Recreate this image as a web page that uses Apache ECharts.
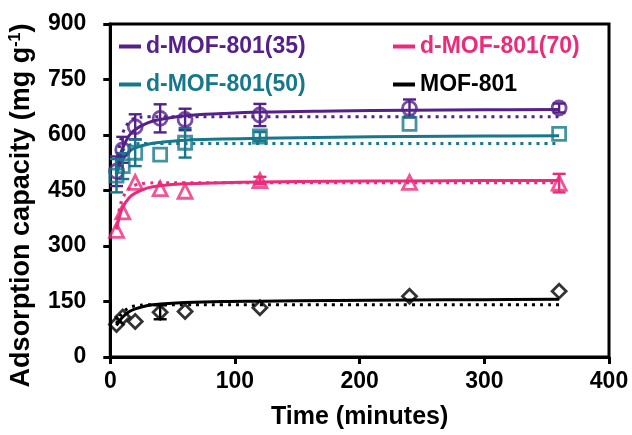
<!DOCTYPE html>
<html>
<head>
<meta charset="utf-8">
<script src="https://cdn.jsdelivr.net/npm/echarts@6/dist/echarts.min.js"></script>
<style>html,body{margin:0;padding:0;background:#fff}#c{width:632px;height:435px}</style>
</head>
<body>
<div id="c"></div>
<script>
// ---- data ----
const seriesNames = ['d-MOF-801(35)', 'd-MOF-801(50)', 'd-MOF-801(70)', 'MOF-801'];
const timePts = [5, 10, 20, 40, 60, 120, 240, 360];
const q35 = [502, 560, 622, 645, 642, 654, 672, 673];
const e35 = [40, 35, 34, 38, 29, 30, 24, 12];
const q50 = [490, 516, 552, 547, 579, 596, 630, 603];
const e50 = [45, 35, 36, 0, 40, 12, 0, 0];
const q70 = [342, 392, 472, 455, 448, 477, 472, 470];
const e70 = [0, 0, 0, 0, 0, 10, 0, 25];
const q801 = [88, 108, 96, 121, 123, 133, 164, 178];
const e801 = [0, 0, 0, 19, 0, 0, 0, 0];

// fitted curves (read at these times)
const fitT = [5, 7, 10, 15, 20, 30, 40, 60, 90, 120, 180, 240, 300, 360];
const fit35Solid = [500, 535, 565, 598, 615, 633, 642, 652, 658, 662, 665, 667, 668, 669];
const fit35Dot   = [500, 560, 605, 635, 645, 649, 649, 649, 649, 649, 649, 649, 649, 649];
const fit50Solid = [490, 515, 535, 555, 565, 575, 580, 586, 589, 591, 594, 596, 597, 598];
const fit50Dot   = [495, 530, 558, 572, 576, 577, 577, 577, 577, 577, 577, 577, 577, 577];
const fit70Solid = [345, 375, 405, 430, 443, 457, 463, 468, 471, 473, 475, 476, 477, 477];
const fit70Dot   = [350, 395, 430, 455, 465, 470, 471, 471, 471, 471, 471, 471, 471, 471];
const fit801Solid = [85, 95, 108, 122, 130, 139, 143, 147, 150, 151, 153, 154, 155, 156];
const fit801Dot   = [90, 105, 120, 133, 138, 141, 141, 141, 141, 141, 141, 141, 141, 141];

const xTicks = [0, 100, 200, 300, 400];
const yTicks = [0, 150, 300, 450, 600, 750, 900];

// ---- styling ----
const FONT = '"Liberation Sans", Arial, Helvetica, sans-serif';
const colors = ['#55208A', '#16788A', '#EC2A7A', '#000000'];
const symbols = ['circle', 'rect', 'triangle', 'diamond'];
const symSizes = [14, 13, 14, 14];
const groups = [
  {q: q35, e: e35, s: fit35Solid, d: fit35Dot},
  {q: q50, e: e50, s: fit50Solid, d: fit50Dot},
  {q: q70, e: e70, s: fit70Solid, d: fit70Dot},
  {q: q801, e: e801, s: fit801Solid, d: fit801Dot}
];

const zip = (a, b) => a.map((v, i) => [v, b[i]]);

const series = [];
groups.forEach((g, i) => {
  const name = seriesNames[i];
  const col = colors[i];
  series.push({
    name, type: 'line', data: zip(fitT, g.s), smooth: 0.4, showSymbol: false,
    lineStyle: {color: col, width: 3}, itemStyle: {color: col}, z: 3, animation: false
  });
  series.push({
    name, type: 'line', data: zip(fitT, g.d), smooth: 0.4, showSymbol: false,
    lineStyle: {color: col, width: 3, type: [3, 5]}, itemStyle: {color: col}, z: 2, animation: false
  });
  series.push({
    name, type: 'custom', animation: false, z: 4,
    data: timePts.map((t, k) => [t, g.q[k] - g.e[k], g.q[k] + g.e[k], g.e[k]]),
    renderItem: function (params, api) {
      if (api.value(3) <= 0) return null;
      const lo = api.coord([api.value(0), api.value(1)]);
      const hi = api.coord([api.value(0), api.value(2)]);
      const hw = 6.5;
      const st = {stroke: col, lineWidth: 2.4};
      return {type: 'group', children: [
        {type: 'line', shape: {x1: lo[0], y1: lo[1], x2: hi[0], y2: hi[1]}, style: st},
        {type: 'line', shape: {x1: lo[0] - hw, y1: lo[1], x2: lo[0] + hw, y2: lo[1]}, style: st},
        {type: 'line', shape: {x1: hi[0] - hw, y1: hi[1], x2: hi[0] + hw, y2: hi[1]}, style: st}
      ]};
    }
  });
  series.push({
    name, type: 'scatter', data: zip(timePts, g.q), symbol: symbols[i], symbolSize: symSizes[i],
    itemStyle: {color: 'rgba(255,255,255,0)', borderColor: col, borderWidth: 2.8}, z: 5, animation: false
  });
});

const legendItem = (i) => ({name: seriesNames[i], icon: 'rect', textStyle: {color: colors[i]}});
const legendBase = {
  orient: 'vertical', itemWidth: 22, itemHeight: 4, itemGap: 15,
  textStyle: {fontFamily: FONT, fontSize: 23, fontWeight: 'bold'}, selectedMode: false
};

const chart = echarts.init(document.getElementById('c'), null, {renderer: 'canvas'});
chart.setOption({
  backgroundColor: '#fff',
  animation: false,
  grid: {left: 107, right: 23, top: 24, bottom: 77, show: true, borderColor: '#000', borderWidth: 3, backgroundColor: 'transparent'},
  legend: [
    Object.assign({}, legendBase, {left: 114, top: 30, data: [legendItem(0), legendItem(1)]}),
    Object.assign({}, legendBase, {left: 388, top: 30, data: [legendItem(2), legendItem(3)]})
  ],
  xAxis: {
    type: 'value', min: xTicks[0], max: xTicks[xTicks.length - 1], interval: 100,
    name: 'Time (minutes)', nameLocation: 'middle', nameGap: 48,
    nameTextStyle: {fontFamily: FONT, fontSize: 25, fontWeight: 'bold', color: '#000'},
    axisLine: {show: true, lineStyle: {color: '#000', width: 3}},
    axisTick: {show: true, length: 7, lineStyle: {color: '#000', width: 3}},
    axisLabel: {fontFamily: FONT, fontSize: 23, fontWeight: 'bold', color: '#000', margin: 13},
    splitLine: {show: false}
  },
  yAxis: {
    type: 'value', min: yTicks[0], max: yTicks[yTicks.length - 1], interval: 150,
    name: 'Adsorption capacity (mg g{sup|-1})', nameLocation: 'middle', nameGap: 58,
    nameTextStyle: {fontFamily: FONT, fontSize: 27, fontWeight: 'bold', color: '#000', padding: [0, 30, 0, 0],
      rich: {sup: {fontFamily: FONT, fontSize: 16, fontWeight: 'bold', color: '#000', verticalAlign: 'top', lineHeight: 16, padding: [0, 0, 13, 0]}}},
    axisLine: {show: true, lineStyle: {color: '#000', width: 3}},
    axisTick: {show: true, length: 7, lineStyle: {color: '#000', width: 3}},
    axisLabel: {fontFamily: FONT, fontSize: 23, fontWeight: 'bold', color: '#000', margin: 24},
    splitLine: {show: false}
  },
  series
});
</script>
</body>
</html>
